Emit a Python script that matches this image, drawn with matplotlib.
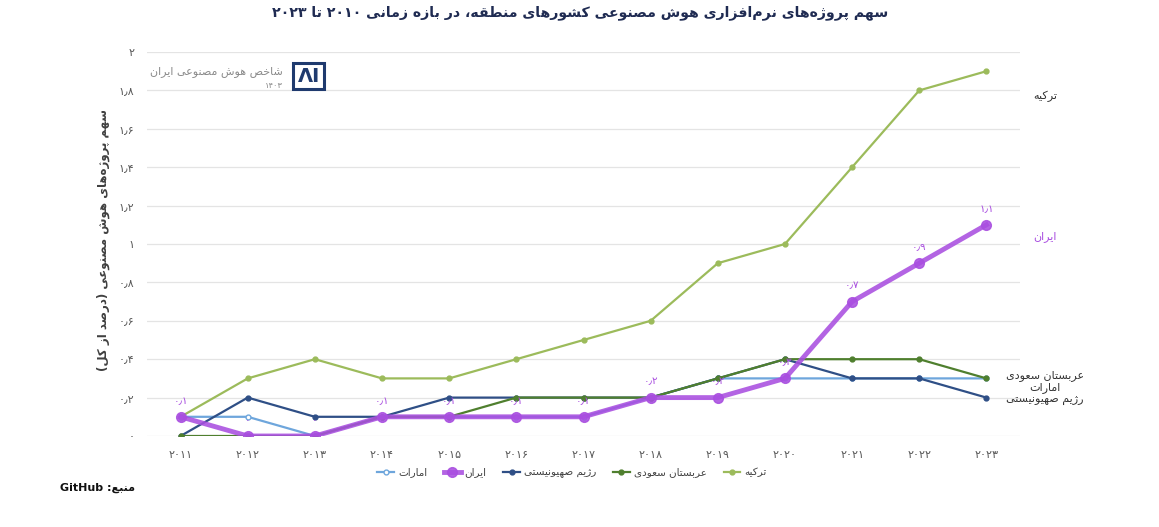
import matplotlib
matplotlib.use("Agg")
import matplotlib.pyplot as plt
from matplotlib.patches import Rectangle
from matplotlib.transforms import blended_transform_factory
import re

# ---------------- data ----------------
years = [2011, 2012, 2013, 2014, 2015, 2016, 2017, 2018, 2019, 2020, 2021, 2022, 2023]
uae = [0.1, 0.1, 0.0, 0.1, 0.1, 0.1, 0.1, 0.2, 0.3, 0.3, 0.3, 0.3, 0.3]
iran = [0.1, 0.0, 0.0, 0.1, 0.1, 0.1, 0.1, 0.2, 0.2, 0.3, 0.7, 0.9, 1.1]
israel = [0.0, 0.2, 0.1, 0.1, 0.2, 0.2, 0.2, 0.2, 0.3, 0.4, 0.3, 0.3, 0.2]
saudi = [0.0, 0.0, 0.0, 0.1, 0.1, 0.2, 0.2, 0.2, 0.3, 0.4, 0.4, 0.4, 0.3]
turkey = [0.1, 0.3, 0.4, 0.3, 0.3, 0.4, 0.5, 0.6, 0.9, 1.0, 1.4, 1.8, 1.9]
y_ticks = [0, 0.2, 0.4, 0.6, 0.8, 1.0, 1.2, 1.4, 1.6, 1.8, 2.0]

names = {
    "uae": "امارات",
    "iran": "ایران",
    "israel": "رژیم صهیونیستی",
    "saudi": "عربستان سعودی",
    "turkey": "ترکیه",
}
title_text = "سهم پروژه‌های نرم‌افزاری هوش مصنوعی کشورهای منطقه، در بازه زمانی ۲۰۱۰ تا ۲۰۲۳"
ylabel_text = "سهم پروژه‌های هوش مصنوعی (درصد از کل)"
logo_text = "شاخص هوش مصنوعی ایران"
logo_year = "۱۴۰۳"
source_text = "منبع: GitHub"

# ---------------- Persian shaping helpers ----------------
FORMS = {
    'ا': (0xFE8D, 0xFE8E, None, None), 'آ': (0xFE81, 0xFE82, None, None),
    'ب': (0xFE8F, 0xFE90, 0xFE91, 0xFE92), 'پ': (0xFB56, 0xFB57, 0xFB58, 0xFB59),
    'ت': (0xFE95, 0xFE96, 0xFE97, 0xFE98), 'ث': (0xFE99, 0xFE9A, 0xFE9B, 0xFE9C),
    'ج': (0xFE9D, 0xFE9E, 0xFE9F, 0xFEA0), 'چ': (0xFB7A, 0xFB7B, 0xFB7C, 0xFB7D),
    'ح': (0xFEA1, 0xFEA2, 0xFEA3, 0xFEA4), 'خ': (0xFEA5, 0xFEA6, 0xFEA7, 0xFEA8),
    'د': (0xFEA9, 0xFEAA, None, None), 'ذ': (0xFEAB, 0xFEAC, None, None),
    'ر': (0xFEAD, 0xFEAE, None, None), 'ز': (0xFEAF, 0xFEB0, None, None),
    'ژ': (0xFB8A, 0xFB8B, None, None),
    'س': (0xFEB1, 0xFEB2, 0xFEB3, 0xFEB4), 'ش': (0xFEB5, 0xFEB6, 0xFEB7, 0xFEB8),
    'ص': (0xFEB9, 0xFEBA, 0xFEBB, 0xFEBC), 'ض': (0xFEBD, 0xFEBE, 0xFEBF, 0xFEC0),
    'ط': (0xFEC1, 0xFEC2, 0xFEC3, 0xFEC4), 'ظ': (0xFEC5, 0xFEC6, 0xFEC7, 0xFEC8),
    'ع': (0xFEC9, 0xFECA, 0xFECB, 0xFECC), 'غ': (0xFECD, 0xFECE, 0xFECF, 0xFED0),
    'ف': (0xFED1, 0xFED2, 0xFED3, 0xFED4), 'ق': (0xFED5, 0xFED6, 0xFED7, 0xFED8),
    'ک': (0xFB8E, 0xFB8F, 0xFB90, 0xFB91), 'گ': (0xFB92, 0xFB93, 0xFB94, 0xFB95),
    'ل': (0xFEDD, 0xFEDE, 0xFEDF, 0xFEE0), 'م': (0xFEE1, 0xFEE2, 0xFEE3, 0xFEE4),
    'ن': (0xFEE5, 0xFEE6, 0xFEE7, 0xFEE8), 'و': (0xFEED, 0xFEEE, None, None),
    'ه': (0xFEE9, 0xFEEA, 0xFEEB, 0xFEEC), 'ی': (0xFBFC, 0xFBFD, 0xFBFE, 0xFBFF),
    'ي': (0xFEF1, 0xFEF2, 0xFEF3, 0xFEF4),
}
MIRROR = {'(': ')', ')': '('}
LTR_RE = re.compile(r'[A-Za-z0-9۰-۹٫]+')


def shape(s):
    out = []
    n = len(s)
    i = 0
    while i < n:
        c = s[i]
        if c == '\u200c':
            i += 1
            continue
        if c not in FORMS:
            out.append(c)
            i += 1
            continue
        prev = s[i - 1] if i > 0 else None
        joins_prev = prev in FORMS and FORMS[prev][2] is not None
        if c == 'ل' and i + 1 < n and s[i + 1] == 'ا':
            out.append(chr(0xFEFC if joins_prev else 0xFEFB))
            i += 2
            continue
        nxt = s[i + 1] if i + 1 < n else None
        joins_next = FORMS[c][2] is not None and nxt in FORMS
        f = FORMS[c]
        if joins_prev and joins_next:
            code = f[3]
        elif joins_prev:
            code = f[1]
        elif joins_next:
            code = f[2]
        else:
            code = f[0]
        out.append(chr(code))
        i += 1
    return ''.join(out)


def rtl(s):
    shaped = shape(s)
    runs = []
    pos = 0
    for m in LTR_RE.finditer(shaped):
        if m.start() > pos:
            runs.append(('r', shaped[pos:m.start()]))
        runs.append(('l', m.group()))
        pos = m.end()
    if pos < len(shaped):
        runs.append(('r', shaped[pos:]))
    vis = []
    for kind, txt in reversed(runs):
        if kind == 'l':
            vis.append(txt)
        else:
            vis.append(''.join(MIRROR.get(ch, ch) for ch in reversed(txt)))
    return ''.join(vis)


FA = str.maketrans('0123456789.', '۰۱۲۳۴۵۶۷۸۹٫')


def fa_num(v):
    s = ('%.1f' % v).rstrip('0').rstrip('.')
    return s.translate(FA)


# ---------------- figure ----------------
plt.rcParams['font.family'] = ['DejaVu Sans']
W, H = 1159, 527
fig = plt.figure(figsize=(W / 100, H / 100), dpi=100)
ax = fig.add_axes([147 / W, 91 / H, 873 / W, 384 / H])

c_uae = '#6ea6dc'
c_iran = '#a94ee0'
c_israel = '#2f4f86'
c_saudi = '#4f7f2e'
c_turkey = '#9cbb5b'

ax.plot(years, turkey, color=c_turkey, lw=1.6, marker='o', ms=3.5, label=rtl(names['turkey']), zorder=3)
ax.plot(years, uae, color=c_uae, lw=1.6, marker='o', ms=3.5, mfc='white', mec=c_uae, label=rtl(names['uae']), zorder=3)
ax.plot(years, israel, color=c_israel, lw=1.6, marker='o', ms=3.5, label=rtl(names['israel']), zorder=4)
ax.plot(years, saudi, color=c_saudi, lw=1.6, marker='o', ms=3.5, label=rtl(names['saudi']), zorder=4)
ax.plot(years, iran, color=c_iran, lw=3.5, marker='o', ms=7, alpha=0.88, label=rtl(names['iran']), zorder=5)

for x, v in zip(years, iran):
    ax.annotate(fa_num(v), (x, v), xytext=(0, 8), textcoords='offset points',
                ha='center', va='bottom', fontsize=7.5, color=c_iran, zorder=6)

ax.set_xlim(2010.5, 2023.5)
ax.set_ylim(0, 2)
ax.set_yticks(y_ticks)
ax.set_yticklabels([fa_num(v) for v in y_ticks])
ax.set_xticks(years)
ax.set_xticklabels([str(y).translate(FA) for y in years])
ax.tick_params(axis='both', length=0, labelsize=8, labelcolor='#595959')
ax.tick_params(axis='y', pad=9)
ax.tick_params(axis='x', pad=10)
for sp in ax.spines.values():
    sp.set_visible(False)
ax.grid(axis='y', color='#e4e4e4', lw=0.9)
ax.set_axisbelow(True)

# legend (order as in reference)
handles, labels = ax.get_legend_handles_labels()
order = [names['uae'], names['iran'], names['israel'], names['saudi'], names['turkey']]
lab_map = dict(zip(labels, handles))
leg_h = [lab_map[rtl(n)] for n in order]
fig.legend(leg_h, [rtl(n) for n in order], loc='center', bbox_to_anchor=(572 / W, 1 - 473 / H),
           ncol=5, frameon=False, fontsize=7.5, handlelength=1.6, columnspacing=1.6,
           handletextpad=0.4, labelcolor='#404040')

# title
fig.text(580 / W, 1 - 13 / H, rtl(title_text), ha='center', va='center', fontsize=10.2,
         fontweight='bold', color='#1f2b52')

# y label
fig.text(103 / W, 1 - 240 / H, rtl(ylabel_text), ha='center', va='center', rotation=90,
         fontsize=8.5, fontweight='bold', color='#404040')

# right-hand series labels
tr = blended_transform_factory(fig.transFigure, ax.transData)
ax.text(1045 / W, turkey[-1] - 0.13, rtl(names['turkey']), transform=tr, ha='center', va='center',
        fontsize=8, color='#333333')
ax.text(1045 / W, iran[-1] - 0.06, rtl(names['iran']), transform=tr, ha='center', va='center',
        fontsize=8, color=c_iran)
ax.text(1045 / W, saudi[-1] - 0.05,
        rtl(names['saudi']) + '\n' + rtl(names['uae']) + '\n' + rtl(names['israel']),
        transform=tr, ha='center', va='center', fontsize=8, color='#333333', linespacing=1.15)

# logo
fig.text(283 / W, 1 - 72 / H, rtl(logo_text), ha='right', va='center', fontsize=8, color='#8a8a8a')
fig.text(283 / W, 1 - 85 / H, logo_year, ha='right', va='center', fontsize=6, color='#8a8a8a')
fig.patches.append(Rectangle((293 / W, 1 - 89 / H), 31 / W, 26 / H, transform=fig.transFigure,
                             fill=False, edgecolor='#1f3a6e', lw=2.2))
fig.text(309 / W, 1 - 77 / H, 'ΛI', ha='center', va='center', fontsize=14, fontweight='bold',
         color='#1f3a6e')

# source
fig.text(135 / W, 1 - 488 / H, rtl(source_text), ha='right', va='center', fontsize=8,
         fontweight='bold', color='#111111')

fig.savefig('out.png', dpi=100)
